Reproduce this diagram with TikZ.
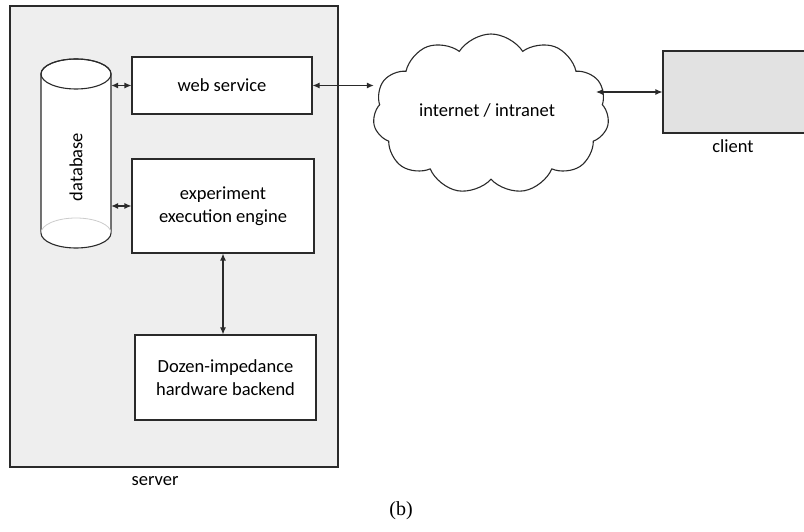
\documentclass[tikz,border=0pt]{standalone}
\usepackage{fontspec}
\setmainfont{Carlito}
\newfontfamily\capfont{Liberation Serif}
\usetikzlibrary{shapes.symbols,arrows.meta}

\definecolor{srvgray}{HTML}{EEEEEE}
\definecolor{linegray}{HTML}{2A2A2A}

\tikzset{
    block/.style={draw=linegray, fill=white, line width=1.1pt, align=center, inner sep=0pt},
    link/.style={{Latex[length=7pt,width=6pt]}-{Latex[length=7pt,width=6pt]}, line width=1.1pt, draw=linegray},
}

\begin{document}
\begin{tikzpicture}[x=1pt, y=1pt, font=\fontsize{18.5}{22.5}\selectfont]

    \useasboundingbox (0,0) rectangle (804,531);

    % server frame and client box
    \node[draw=linegray, fill=srvgray, line width=1.1pt, minimum width=328pt, minimum height=461pt, inner sep=0pt] (server) at (174,294.5) {};
    \node (srvlabel) at (155,50) {server};

    \node[draw=linegray, fill=srvgray!95!black, line width=1.1pt, minimum width=160pt, minimum height=82pt, inner sep=0pt] (client) at (743,439) {};
    \node (clilabel) at (733,385) {client};

    % blocks inside the server
    \node[block, minimum width=180pt, minimum height=57pt] (web) at (222,445.5) {web service};
    \node[block, minimum width=182pt, minimum height=94pt] (engine) at (223,325) {experiment\\execution engine};
    \node[block, minimum width=181pt, minimum height=85pt] (backend) at (225.5,153.5) {Dozen-impedance\\hardware backend};

    % database drum
    \node[minimum width=70pt, minimum height=189pt, inner sep=0pt] (db) at (76,377.5) {};
    \begin{scope}[shift={(db.center)}]
        \filldraw[draw=linegray, fill=white, line width=1.1pt] (-35,79.5) -- (-35,-79.5)
            arc[start angle=180, end angle=360, x radius=35, y radius=15] -- (35,79.5)
            arc[start angle=0, end angle=180, x radius=35, y radius=15] -- cycle;
        \draw[linegray, line width=1.1pt] (0,79.5) ellipse[x radius=35, y radius=15];
        \draw[black!20, line width=0.8pt] (-35,-79.5) arc[start angle=180, end angle=0, x radius=35, y radius=15];
    \end{scope}
    \node[rotate=90] (dblabel) at (76,364) {database};

    % the network
    \node[cloud, draw=linegray, fill=white, line width=1.1pt, cloud puffs=11, cloud puff arc=115,
          aspect=1.45, minimum width=236pt, minimum height=160pt, inner sep=0pt] (net) at (491,417) {};
    \node (netlabel) at (487,421) {internet / intranet};

    \coordinate (netR) at (596,439);

    % connections
    \draw[link] (web.west) -- (web.west -| db.east);
    \draw[link] (engine.west) -- (engine.west -| db.east);
    \draw[link] (engine.south) -- (engine.south |- backend.north);
    \draw[link] (web.east) -- (web.east -| net.west);
    \draw[link] (netR) -- (client.west);

    \node[font=\capfont\fontsize{20}{24}\selectfont] (caption) at (401,20) {(b)};

\end{tikzpicture}
\end{document}
